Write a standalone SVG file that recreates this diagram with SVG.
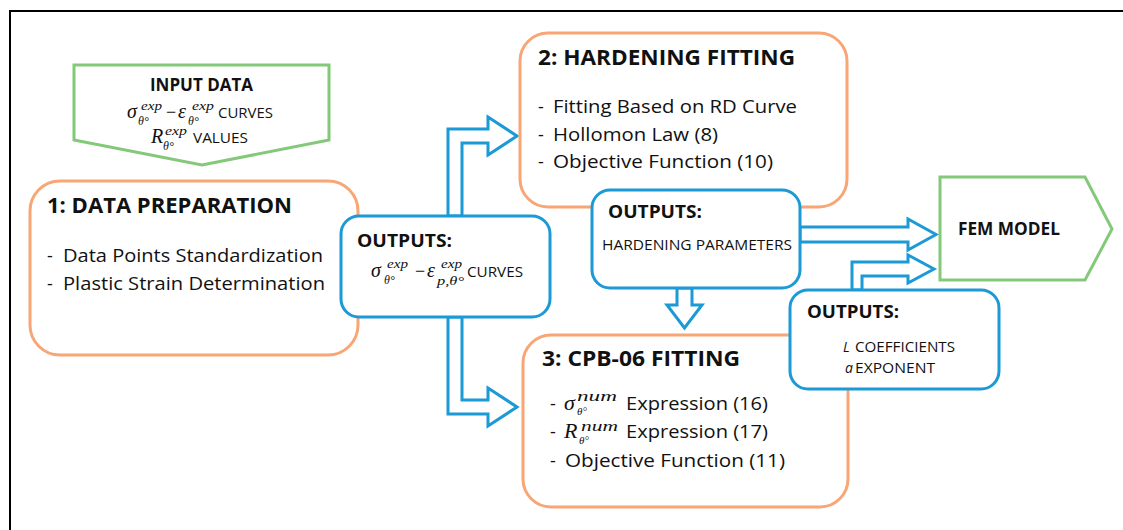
<svg xmlns="http://www.w3.org/2000/svg" width="1123" height="530" viewBox="0 0 1123 530">
<defs>
<style>
.frame{fill:none;stroke:#000;stroke-width:2}
.orange{fill:#fff;stroke:#f8a675;stroke-width:3}
.blue{fill:#fff;stroke:#1b9ad6;stroke-width:3}
.green{fill:#fff;stroke:#84c97a;stroke-width:3}
.arrow{fill:#fff;stroke:#1b9ad6;stroke-width:3;stroke-linejoin:miter}
.t{font-family:"Open Sans","Liberation Sans",sans-serif;fill:#111}
.b{font-weight:700}
.title{font-size:21px;font-weight:700}
.item{font-size:18px}
.out{font-size:18px;font-weight:700}
.small{font-size:14px}
.m{font-family:"Liberation Serif","DejaVu Serif",serif;font-style:italic;fill:#111}
.mu{font-family:"Liberation Serif","DejaVu Serif",serif;fill:#111}
</style>
</defs>
<rect class="frame" x="10" y="11" width="1140" height="540"/>

<g id="connectors">
<polygon class="arrow" points="448,216 448,129 488,129 488,117 517,136 488,155 488,143 462,143 462,216"/>
<polygon class="arrow" points="448,317 448,414 488,414 488,426 517,407 488,388 488,400 462,400 462,317"/>
<polygon class="arrow" points="800,227 908,227 908,219 936,234.5 908,250 908,242 800,242"/>
<polygon class="arrow" points="677,288 677,305 667,305 684.5,328 702,305 692,305 692,288"/>
<polygon class="arrow" points="852,290 852,262 908,262 908,255 934,269 908,283 908,276 862,276 862,290"/>
</g>

<g id="input-data">
<polygon class="green" points="74,65 329,65 329,140 202,165 74,140"/>
<text class="t b" x="150" y="91" font-size="17" textLength="103" lengthAdjust="spacingAndGlyphs">INPUT DATA</text>
<text class="m" x="127" y="118" font-size="20">σ</text>
<text class="m" x="141" y="110" font-size="13" textLength="21" lengthAdjust="spacingAndGlyphs">exp</text>
<text class="m" x="138" y="125" font-size="12">θ°</text>
<text class="mu" x="166" y="118" font-size="18">−</text>
<text class="m" x="178" y="118" font-size="20">ε</text>
<text class="m" x="192" y="110" font-size="13" textLength="22" lengthAdjust="spacingAndGlyphs">exp</text>
<text class="m" x="188" y="125" font-size="12">θ°</text>
<text class="t" x="218" y="118" font-size="15" textLength="55" lengthAdjust="spacingAndGlyphs">CURVES</text>
<text class="m" x="151" y="143" font-size="20">R</text>
<text class="m" x="165" y="135" font-size="13" textLength="22" lengthAdjust="spacingAndGlyphs">exp</text>
<text class="m" x="163" y="150" font-size="12">θ°</text>
<text class="t" x="193" y="143" font-size="15" textLength="55" lengthAdjust="spacingAndGlyphs">VALUES</text>
</g>

<g id="data-preparation">
<rect class="orange" x="30" y="181" width="328" height="174" rx="30"/>
<text class="t title" x="47" y="213" textLength="245" lengthAdjust="spacingAndGlyphs">1: DATA PREPARATION</text>
<text class="t item" x="47" y="262">-</text>
<text class="t item" x="63" y="262" textLength="260" lengthAdjust="spacingAndGlyphs">Data Points Standardization</text>
<text class="t item" x="47" y="290">-</text>
<text class="t item" x="63" y="290" textLength="262" lengthAdjust="spacingAndGlyphs">Plastic Strain Determination</text>
</g>

<g id="outputs-curves">
<rect class="blue" x="341" y="216" width="209" height="101" rx="18"/>
<text class="t out" x="357" y="247" textLength="95" lengthAdjust="spacingAndGlyphs">OUTPUTS:</text>
<text class="m" x="371" y="277" font-size="20">σ</text>
<text class="m" x="387" y="268" font-size="13" textLength="21" lengthAdjust="spacingAndGlyphs">exp</text>
<text class="m" x="384" y="284" font-size="12">θ°</text>
<text class="mu" x="415" y="277" font-size="18">−</text>
<text class="m" x="427" y="277" font-size="20">ε</text>
<text class="m" x="441" y="268" font-size="13" textLength="21" lengthAdjust="spacingAndGlyphs">exp</text>
<text class="m" x="437" y="285" font-size="12" textLength="27" lengthAdjust="spacingAndGlyphs">p,θ°</text>
<text class="t" x="467" y="277" font-size="14" textLength="56" lengthAdjust="spacingAndGlyphs">CURVES</text>
</g>

<g id="hardening-fitting">
<rect class="orange" x="520" y="33" width="327" height="174" rx="28"/>
<text class="t title" x="538" y="65" textLength="257" lengthAdjust="spacingAndGlyphs">2: HARDENING FITTING</text>
<text class="t item" x="538" y="113">-</text>
<text class="t item" x="553" y="113" textLength="244" lengthAdjust="spacingAndGlyphs">Fitting Based on RD Curve</text>
<text class="t item" x="538" y="141">-</text>
<text class="t item" x="553" y="141" textLength="165" lengthAdjust="spacingAndGlyphs">Hollomon Law (8)</text>
<text class="t item" x="538" y="168">-</text>
<text class="t item" x="553" y="168" textLength="220" lengthAdjust="spacingAndGlyphs">Objective Function (10)</text>
</g>

<g id="cpb06-fitting">
<rect class="orange" x="523" y="335" width="325" height="172" rx="28"/>
<text class="t title" x="542" y="366" textLength="198" lengthAdjust="spacingAndGlyphs">3: CPB-06 FITTING</text>
<text class="t item" x="550" y="410">-</text>
<text class="m" x="564" y="410" font-size="22">σ</text>
<text class="m" x="577" y="401" font-size="14" textLength="40" lengthAdjust="spacingAndGlyphs">num</text>
<text class="m" x="577" y="415" font-size="11">θ°</text>
<text class="t item" x="626" y="410" textLength="142" lengthAdjust="spacingAndGlyphs">Expression (16)</text>
<text class="t item" x="550" y="438">-</text>
<text class="m" x="564" y="438" font-size="22">R</text>
<text class="m" x="581" y="431" font-size="14" textLength="37" lengthAdjust="spacingAndGlyphs">num</text>
<text class="m" x="579" y="444" font-size="11">θ°</text>
<text class="t item" x="626" y="438" textLength="142" lengthAdjust="spacingAndGlyphs">Expression (17)</text>
<text class="t item" x="550" y="467">-</text>
<text class="t item" x="565" y="467" textLength="220" lengthAdjust="spacingAndGlyphs">Objective Function (11)</text>
</g>

<g id="outputs-hardening">
<rect class="blue" x="592" y="190" width="208" height="98" rx="18"/>
<text class="t out" x="608" y="218" textLength="94" lengthAdjust="spacingAndGlyphs">OUTPUTS:</text>
<text class="t small" x="602" y="250" textLength="190" lengthAdjust="spacingAndGlyphs">HARDENING PARAMETERS</text>
</g>

<g id="outputs-cpb">
<rect class="blue" x="790" y="290" width="209" height="99" rx="18"/>
<text class="t out" x="807" y="318" textLength="92" lengthAdjust="spacingAndGlyphs">OUTPUTS:</text>
<text class="t small" x="843" y="352" font-style="italic">L</text>
<text class="t small" x="855" y="352" textLength="100" lengthAdjust="spacingAndGlyphs">COEFFICIENTS</text>
<text class="t small" x="845" y="373" font-style="italic">a</text>
<text class="t small" x="855" y="373" textLength="80" lengthAdjust="spacingAndGlyphs">EXPONENT</text>
</g>

<g id="fem-model">
<polygon class="green" points="940,177 1085,177 1112,229 1085,280 940,280"/>
<text class="t b" x="958" y="235" font-size="18" textLength="102" lengthAdjust="spacingAndGlyphs">FEM MODEL</text>
</g>
</svg>
